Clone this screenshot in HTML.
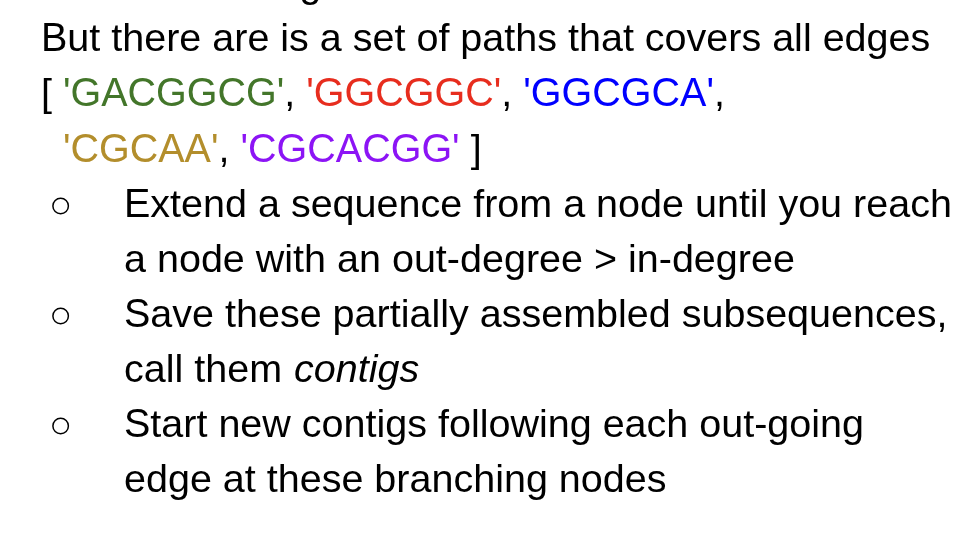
<!DOCTYPE html>
<html><head><meta charset="utf-8">
<style>
html,body{margin:0;padding:0;background:#fff;width:970px;height:534px;overflow:hidden;}
body{position:relative;font-family:"Liberation Sans",sans-serif;font-size:39.5px;color:#000;}
.l{position:absolute;will-change:transform;white-space:pre;line-height:40px;height:40px;}
.q{display:inline-block;transform:scaleY(1.041);transform-origin:0 33px;}
.g{color:#43762a}.r{color:#e72d1e}.bl{color:#0000ff}.y{color:#b38e2c}.p{color:#8c14f5}
svg{position:absolute;left:0;top:0;}
</style></head><body>
<svg width="970" height="534"><g fill="none" stroke="#000" stroke-width="1.5">
<circle cx="60.65" cy="205.95" r="7.75"/><circle cx="60.65" cy="315.95" r="7.75"/><circle cx="60.65" cy="425.95" r="7.75"/></g></svg>
<div class="l" style="left:58px;top:-37px">                      g</div>
<div class="l" style="left:40.6px;top:16.5px"><span class="q">B</span>ut there are is a set of paths that covers all edges</div>
<div class="l" style="left:41px;top:72px">[ <span class="q g">'GACGGCG'</span>, <span class="q r">'GGCGGC'</span>, <span class="q bl">'GGCGCA'</span>,</div>
<div class="l" style="left:41px;top:127.5px">  <span class="q y">'CGCAA'</span>, <span class="q p">'CGCACGG'</span> ]</div>
<div class="l" style="left:123.8px;top:182.5px"><span class="q">E</span>xtend a sequence from a node until you reach</div>
<div class="l" style="left:123.8px;top:237.5px">a node with an out-degree &gt; in-degree</div>
<div class="l" style="left:123.8px;top:293px"><span class="q">S</span>ave these partially assembled subsequences,</div>
<div class="l" style="left:123.8px;top:347.5px">call them <i style="margin-left:1px">contigs</i></div>
<div class="l" style="left:123.8px;top:402.5px"><span class="q">S</span>tart new contigs following each out-going</div>
<div class="l" style="left:123.8px;top:457.5px">edge at these branching nodes</div>
</body></html>
